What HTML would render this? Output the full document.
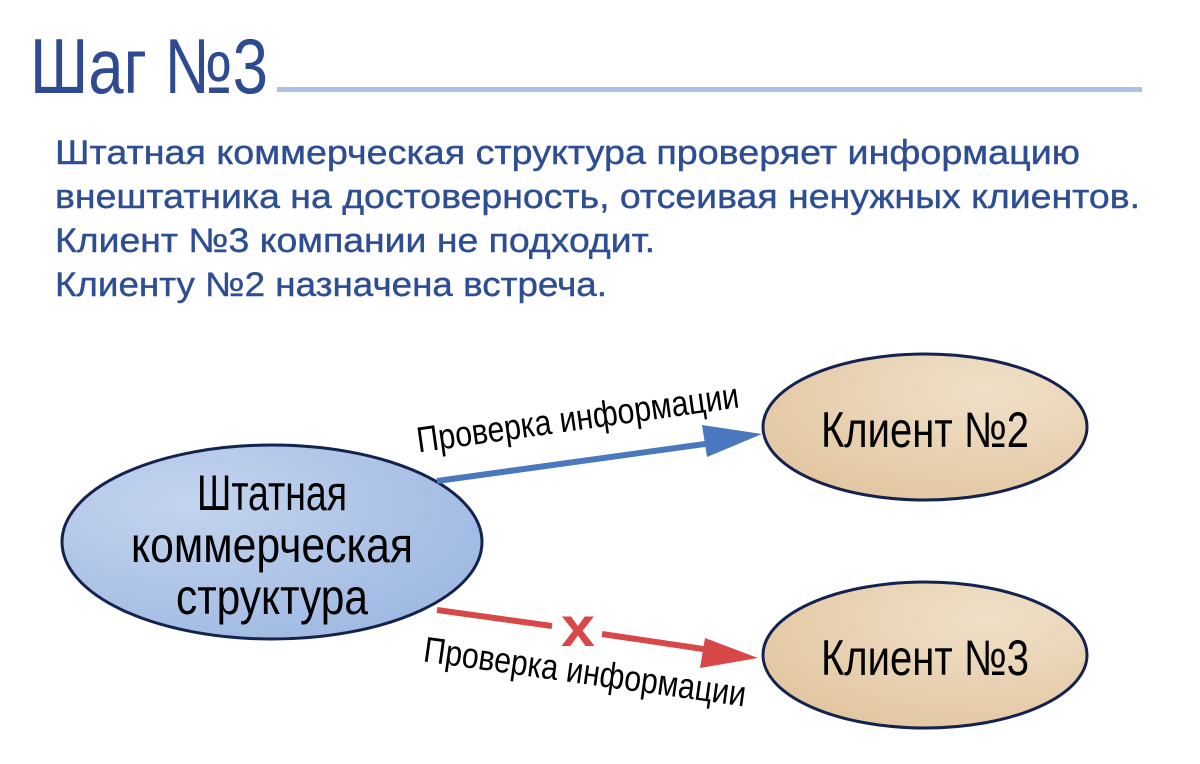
<!DOCTYPE html>
<html><head><meta charset="utf-8"><style>
html,body{margin:0;padding:0;background:#fff;}
svg{display:block;}
</style></head><body>
<svg width="1200" height="764" viewBox="0 0 1200 764" xmlns="http://www.w3.org/2000/svg" font-family="'Liberation Sans', sans-serif">
<defs>
<radialGradient id="gb" cx="0.3" cy="0.3" r="0.8"><stop offset="0" stop-color="#c3d4ee"/><stop offset="1" stop-color="#9fb9e2"/></radialGradient>
<radialGradient id="gt" cx="0.7" cy="0.25" r="0.8"><stop offset="0" stop-color="#f0e0c8"/><stop offset="1" stop-color="#e3c7a2"/></radialGradient>
</defs>
<text x="30" y="93" font-size="78" fill="#2e4a90" textLength="238" lengthAdjust="spacingAndGlyphs">Шаг №3</text>
<rect x="277" y="87" width="865" height="5" fill="#a9c3e0"/>
<g font-size="34" fill="#2e4e94" stroke="#2e4e94" stroke-width="0.4">
<text x="55" y="164" textLength="1025" lengthAdjust="spacingAndGlyphs">Штатная коммерческая структура проверяет информацию</text>
<text x="55" y="208" textLength="1085" lengthAdjust="spacingAndGlyphs">внештатника на достоверность, отсеивая ненужных клиентов.</text>
<text x="55" y="252" textLength="600" lengthAdjust="spacingAndGlyphs">Клиент №3 компании не подходит.</text>
<text x="55" y="296" textLength="552" lengthAdjust="spacingAndGlyphs">Клиенту №2 назначена встреча.</text>
</g>
<ellipse cx="272" cy="542" rx="210" ry="97" fill="url(#gb)" stroke="#13224e" stroke-width="3"/>
<ellipse cx="925" cy="427" rx="162" ry="73" fill="url(#gt)" stroke="#13224e" stroke-width="3"/>
<ellipse cx="925" cy="655" rx="162" ry="73" fill="url(#gt)" stroke="#13224e" stroke-width="3"/>
<g font-size="50" fill="#000" text-anchor="middle">
<text x="272" y="510" textLength="150" lengthAdjust="spacingAndGlyphs">Штатная</text>
<text x="272" y="562" textLength="282" lengthAdjust="spacingAndGlyphs">коммерческая</text>
<text x="272" y="614" textLength="192" lengthAdjust="spacingAndGlyphs">структура</text>
<text x="925" y="447" textLength="208" lengthAdjust="spacingAndGlyphs">Клиент №2</text>
<text x="925" y="675" textLength="208" lengthAdjust="spacingAndGlyphs">Клиент №3</text>
</g>
<line x1="437" y1="481" x2="712" y2="443" stroke="#4a78be" stroke-width="6"/>
<polygon points="762,434 702,425 707,457" fill="#4a78be"/>
<line x1="437" y1="610" x2="552" y2="626" stroke="#d84848" stroke-width="6"/>
<line x1="602" y1="634" x2="710" y2="650" stroke="#d84848" stroke-width="6"/>
<polygon points="758,658 705,638 700,668" fill="#d84848"/>
<text x="578" y="646" font-size="56" font-weight="bold" fill="#d84848" text-anchor="middle" textLength="34" lengthAdjust="spacingAndGlyphs">x</text>
<g font-size="36" fill="#000" text-anchor="middle">
<text x="578" y="430" transform="rotate(-8 578 420)" textLength="325" lengthAdjust="spacingAndGlyphs">Проверка информации</text>
<text x="585" y="684" transform="rotate(8 585 672)" textLength="325" lengthAdjust="spacingAndGlyphs">Проверка информации</text>
</g>
</svg>
</body></html>
